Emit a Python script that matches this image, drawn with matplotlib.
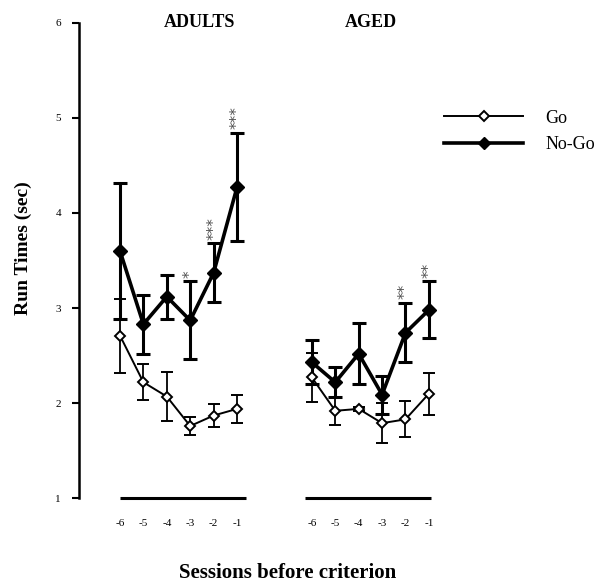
import matplotlib
matplotlib.use("Agg")
import matplotlib.pyplot as plt
from matplotlib.lines import Line2D
import numpy as np

# Session labels (sessions before criterion)
sessions = ["-6", "-5", "-4", "-3", "-2", "-1"]

# Mean run times (sec) and SEM
adults_go = [2.71, 2.22, 2.07, 1.76, 1.87, 1.94]
adults_go_err = [0.39, 0.19, 0.26, 0.09, 0.12, 0.15]
adults_nogo = [3.60, 2.83, 3.12, 2.87, 3.37, 4.27]
adults_nogo_err = [0.72, 0.31, 0.23, 0.41, 0.31, 0.57]

aged_go = [2.27, 1.92, 1.94, 1.79, 1.83, 2.10]
aged_go_err = [0.26, 0.15, 0.02, 0.21, 0.19, 0.22]
aged_nogo = [2.43, 2.22, 2.52, 2.09, 2.74, 2.98]
aged_nogo_err = [0.23, 0.16, 0.32, 0.20, 0.31, 0.30]

# Significance markers above the No-Go error bars
adults_sig = ["", "", "", "*", "***", "***"]
aged_sig = ["", "", "", "", "**", "**"]

plt.rcParams["font.family"] = ["Liberation Serif", "DejaVu Serif"]

fig = plt.figure(figsize=(5.99, 5.83), dpi=100)
ax = fig.add_axes([79 / 599, (583 - 498.3) / 583, 361 / 599, (498.3 - 22.7) / 583])

n = len(sessions)
x_adults = np.arange(n, dtype=float)
x_aged = x_adults + 8.2

go_style = dict(color="black", lw=1.4, marker="D", ms=5.5, mfc="white",
                mec="black", mew=1.4, ecolor="black", elinewidth=1.3,
                capsize=4.5, capthick=1.5, zorder=4)
nogo_style = dict(color="black", lw=2.6, marker="D", ms=7, mfc="black",
                  mec="black", ecolor="black", elinewidth=2.2,
                  capsize=5, capthick=2.2, zorder=3)

ax.errorbar(x_adults, adults_nogo, yerr=adults_nogo_err, **nogo_style)
ax.errorbar(x_adults, adults_go, yerr=adults_go_err, **go_style)
ax.errorbar(x_aged, aged_nogo, yerr=aged_nogo_err, **nogo_style)
ax.errorbar(x_aged, aged_go, yerr=aged_go_err, **go_style)

# Stars above the No-Go error bars
for xs, ys, es, sig in [(x_adults, adults_nogo, adults_nogo_err, adults_sig),
                        (x_aged, aged_nogo, aged_nogo_err, aged_sig)]:
    for xi, yi, ei, s in zip(xs, ys, es, sig):
        if s:
            ax.text(xi, yi + ei + 0.04, s, rotation=90, ha="center", va="bottom",
                    fontsize=11, color="#505050", family="DejaVu Sans")

# Group baselines under each panel
ax.hlines(1.0, x_adults[0], x_adults[-1] + 0.4, color="black", lw=2.2, clip_on=False)
ax.hlines(1.0, x_aged[0] - 0.3, x_aged[-1] + 0.1, color="black", lw=2.2, clip_on=False)

ax.set_xlim((79 - 120) / 23.4, (440 - 120) / 23.4)
ax.set_ylim(1, 6)

ax.set_xticks(np.concatenate([x_adults, x_aged]))
ax.set_xticklabels(sessions + sessions, fontsize=8)
ax.tick_params(axis="x", length=0, pad=15)
ax.set_yticks([1, 2, 3, 4, 5, 6])
ax.set_yticklabels(["1", "2", "3", "4", "5", "6"], fontsize=8)
ax.tick_params(axis="y", length=5, width=1.5, pad=8, direction="out")

for side in ["top", "right", "bottom"]:
    ax.spines[side].set_visible(False)
ax.spines["left"].set_linewidth(1.8)

ax.text(np.mean(x_adults) + 0.9, 6.0, "ADULTS", ha="center", va="center",
        fontsize=13, fontweight="bold")
ax.text(np.mean(x_aged) + 0.03, 6.0, "AGED", ha="center", va="center",
        fontsize=13, fontweight="bold")

fig.text(23 / 599, 1 - 248 / 583, "Run Times (sec)", rotation=90,
         ha="center", va="center", fontsize=14, fontweight="bold")
fig.text(287.5 / 599, 1 - 573 / 583, "Sessions before criterion",
         ha="center", va="center", fontsize=15, fontweight="bold")

# Legend
handles = [
    Line2D([], [], color="black", lw=1.4, marker="D", ms=5, mfc="white", mec="black", mew=1.4),
    Line2D([], [], color="black", lw=2.6, marker="D", ms=6, mfc="black", mec="black"),
]
fig.legend(handles, ["Go", "No-Go"], loc="center left",
           bbox_to_anchor=(444 / 599, 1 - 131.5 / 583), frameon=False,
           fontsize=13, handlelength=4.4, handletextpad=1.2, labelspacing=0.55,
           borderpad=0, borderaxespad=0, numpoints=1)

fig.savefig("out.png", dpi=100)
